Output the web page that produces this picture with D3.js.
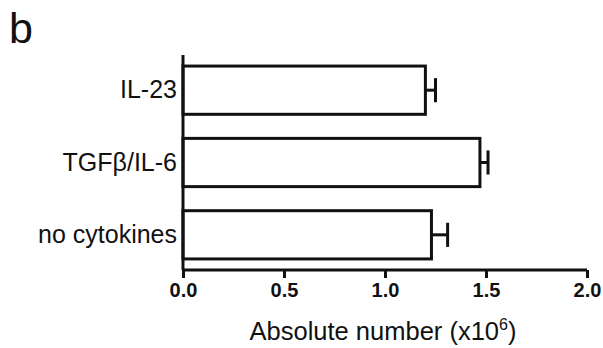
<!DOCTYPE html>
<html><head><meta charset="utf-8">
<script src="https://cdn.jsdelivr.net/npm/d3@7"></script>
<style>body{margin:0;background:#fff}svg{display:block}text{font-family:Arial,"Liberation Sans",sans-serif;fill:#111}</style>
</head><body>
<svg id="c" width="603" height="348"></svg>
<script>
const categories = ["IL-23", "TGFβ/IL-6", "no cytokines"];
const values = [1.20, 1.47, 1.23];
const errors = [0.05, 0.04, 0.08];
const xTicks = [0.0, 0.5, 1.0, 1.5, 2.0];

const svg = d3.select("#c");
const m = {left: 183, top: 55, right: 16, bottom: 78};
const W = 603, H = 348;
const x = d3.scaleLinear().domain([0, 2]).range([m.left, W - m.right]);
const y = d3.scaleBand().domain(categories).range([m.top, H - m.bottom]).paddingInner(0.333).paddingOuter(0.153);

// bars
svg.append("g").selectAll("rect").data(categories).join("rect")
  .attr("x", x(0)).attr("y", d => y(d))
  .attr("width", (d,i) => x(values[i]) - x(0)).attr("height", y.bandwidth())
  .attr("fill", "#fff").attr("stroke", "#111").attr("stroke-width", 3);

// error bars
const eg = svg.append("g").attr("stroke", "#111").attr("stroke-width", 3);
categories.forEach((c,i) => {
  const cy = y(c) + y.bandwidth()/2;
  eg.append("line").attr("x1", x(values[i])).attr("x2", x(values[i]+errors[i])).attr("y1", cy).attr("y2", cy);
  eg.append("line").attr("x1", x(values[i]+errors[i])).attr("x2", x(values[i]+errors[i]))
    .attr("y1", cy - y.bandwidth()/4).attr("y2", cy + y.bandwidth()/4);
});

// x axis
const xa = svg.append("g").attr("transform", `translate(0,${H - m.bottom})`)
  .call(d3.axisBottom(x).tickValues(xTicks).tickFormat(d3.format(".1f")).tickSizeOuter(0).tickSize(8).tickPadding(5));
xa.select(".domain").attr("stroke", "#111").attr("stroke-width", 3).attr("d", `M${x(0)},0H${x(2)}`);
xa.selectAll(".tick line").attr("stroke", "#111").attr("stroke-width", 3);
xa.selectAll(".tick text").attr("font-size", 20).attr("font-weight", "bold").attr("fill", "#111")
  .style("font-family", "Arial, 'Liberation Sans', sans-serif");

// y axis
const ya = svg.append("g").attr("transform", `translate(${m.left},0)`)
  .call(d3.axisLeft(y).tickSize(0).tickPadding(6));
ya.select(".domain").attr("stroke", "#111").attr("stroke-width", 3).attr("d", `M0,${m.top}V${H - m.bottom}`);
ya.selectAll(".tick text").attr("font-size", 25).attr("fill", "#111")
  .style("font-family", "Arial, 'Liberation Sans', sans-serif");

// axis title
const t = svg.append("text").attr("x", (x(0)+x(2))/2 - 2).attr("y", 340).attr("text-anchor", "middle").attr("font-size", 25.5);
t.append("tspan").text("Absolute number (x10");
t.append("tspan").attr("dy", -10).attr("font-size", 16).text("6");
t.append("tspan").attr("dy", 10).text(")");

// panel label
svg.append("text").attr("x", 9).attr("y", 43).attr("font-size", 43).text("b");
</script>
</body></html>
